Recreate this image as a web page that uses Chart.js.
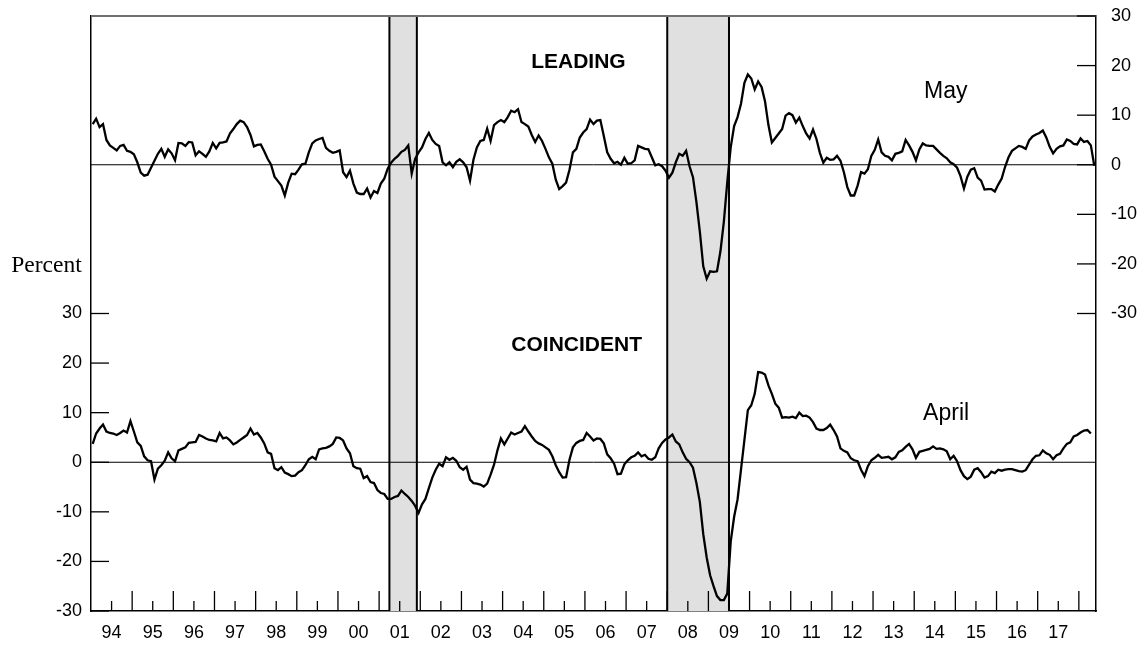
<!DOCTYPE html>
<html>
<head>
<meta charset="utf-8">
<script src="https://cdn.jsdelivr.net/npm/chart.js@4.4.1/dist/chart.umd.min.js"></script>
<style>
  html, body { margin: 0; padding: 0; background: #fff; }
  canvas { display: block; }
</style>
</head>
<body>
<canvas id="chart" width="1145" height="647"></canvas>
<script>
// Six-month growth rates (percent), monthly from Jan 1994
const startYear = 1994;
const yearLabels = ['94', '95', '96', '97', '98', '99', '00', '01', '02', '03', '04', '05',
  '06', '07', '08', '09', '10', '11', '12', '13', '14', '15', '16', '17'];

// Leading index, Jan 1994 - May 2018
const leading = [
  8.2, 9.3, 7.6, 8.2, 5.0, 3.9, 3.4, 2.9, 3.8, 4.0, 2.8, 2.6,
  2.1, 0.5, -1.6, -2.2, -2.0, -0.6, 0.8, 2.2, 3.2, 1.6, 3.1, 2.3,
  0.9, 4.4, 4.3, 3.8, 4.6, 4.5, 1.9, 2.7, 2.2, 1.6, 2.7, 4.4,
  3.3, 4.4, 4.5, 4.7, 6.3, 7.2, 8.2, 8.9, 8.6, 7.6, 6.0, 3.7,
  4.0, 4.1, 2.7, 1.2, 0.0, -2.4, -3.3, -4.2, -6.2, -3.6, -1.8, -1.9,
  -1.0, 0.1, 0.2, 2.5, 4.3, 4.9, 5.2, 5.4, 3.4, 2.8, 2.4, 2.6,
  2.9, -1.5, -2.5, -1.2, -3.8, -5.6, -5.9, -5.9, -4.8, -6.6, -5.3, -5.7,
  -3.8, -2.8, -0.8, 0.4, 1.2, 1.8, 2.6, 3.0, 3.9, -1.8, 1.2, 2.5,
  3.5, 5.2, 6.4, 5.0, 4.2, 3.8, 0.5, -0.1, 0.5, -0.5, 0.6, 1.1,
  0.5, -0.5, -3.2, 1.0, 3.5, 4.8, 5.0, 7.3, 4.8, 8.0, 8.6, 9.0,
  8.6, 9.6, 10.9, 10.6, 11.2, 8.6, 8.2, 7.7, 6.0, 4.6, 5.9, 4.8,
  3.2, 1.5, 0.2, -3.0, -4.9, -4.3, -3.6, -1.0, 2.5, 3.2, 5.5, 6.5,
  7.2, 9.1, 8.2, 8.9, 9.0, 5.8, 2.5, 1.2, 0.3, 0.6, 0.0, 1.4,
  0.2, 0.3, 0.9, 3.8, 3.5, 3.2, 3.1, 1.5, -0.1, 0.1, -0.3, -1.2,
  -2.6, -1.6, 0.5, 2.2, 1.8, 2.8, -0.3, -2.5, -7.5, -13.5, -20.5, -23.0,
  -21.5, -21.6, -21.5, -17.5, -11.5, -3.5, 3.5, 7.8, 9.6, 12.3, 16.5, 18.2,
  17.4, 15.2, 16.8, 15.7, 12.8, 8.0, 4.5, 5.4, 6.3, 7.2, 9.9, 10.4,
  10.0, 8.5, 9.5, 7.8, 6.3, 5.3, 7.1, 5.2, 2.4, 0.4, 1.4, 1.0,
  1.1, 1.8, 0.8, -1.5, -4.5, -6.2, -6.2, -4.2, -1.5, -1.8, -0.9, 1.8,
  3.0, 5.1, 2.5, 1.8, 1.6, 0.9, 2.2, 2.4, 2.7, 5.0, 3.9, 2.6,
  0.9, 3.1, 4.3, 3.9, 3.8, 3.8, 3.1, 2.4, 1.8, 1.3, 0.5, 0.1,
  -0.6, -2.3, -4.8, -2.4, -1.0, -0.7, -2.6, -3.2, -5.0, -4.9, -4.9, -5.4,
  -4.0, -2.8, -0.4, 1.5, 2.8, 3.3, 3.8, 3.6, 3.2, 4.9, 5.7, 6.1,
  6.4, 6.9, 5.5, 3.6, 2.3, 3.2, 3.7, 3.9, 5.1, 4.8, 4.2, 4.1,
  5.3, 4.6, 4.8, 3.9, -0.2
];

// Coincident index, Jan 1994 - Apr 2018
const coincident = [
  3.7, 5.8, 6.8, 7.6, 6.2, 5.9, 5.8, 5.5, 5.9, 6.4, 6.0, 8.3,
  6.2, 4.0, 3.3, 1.2, 0.4, 0.2, -3.5, -1.3, -0.6, 0.3, 2.0, 0.8,
  0.2, 2.4, 2.7, 3.0, 3.9, 4.0, 4.1, 5.5, 5.2, 4.8, 4.5, 4.4,
  4.2, 5.9, 4.8, 5.0, 4.4, 3.6, 4.0, 4.5, 5.0, 5.5, 6.8, 5.6,
  5.9, 5.0, 3.8, 2.0, 1.7, -1.2, -1.6, -1.0, -2.1, -2.4, -2.8, -2.7,
  -2.0, -1.6, -0.6, 0.6, 1.1, 0.6, 2.6, 2.8, 2.9, 3.2, 3.7, 5.0,
  4.9, 4.4, 2.8, 1.8, -0.8, -1.2, -1.3, -3.2, -2.8, -4.0, -4.2, -5.6,
  -6.2, -6.4, -7.4, -7.4, -7.0, -6.8, -5.7, -6.4, -7.0, -7.8, -8.8, -10.2,
  -8.5, -7.4, -5.2, -3.1, -1.5, -0.3, -0.8, 1.0, 0.5, 0.9, 0.3, -1.0,
  -1.5, -0.9, -3.5, -4.2, -4.3, -4.5, -4.9, -4.3, -2.5, -0.5, 2.4, 4.8,
  3.6, 4.8, 6.0, 5.6, 5.9, 6.2, 7.3, 6.2, 5.2, 4.3, 3.8, 3.5,
  3.0, 2.5, 1.2, -0.6, -2.0, -3.1, -3.0, 0.5, 3.0, 3.9, 4.3, 4.5,
  5.9, 5.2, 4.4, 4.8, 4.7, 3.8, 1.6, 0.8, -0.3, -2.4, -2.3, -0.4,
  0.4, 1.0, 1.3, 2.0, 1.2, 1.5, 0.7, 0.5, 1.0, 2.8, 3.9, 4.6,
  5.0, 5.6, 4.2, 3.6, 2.0, 0.7, 0.0, -1.1, -4.2, -8.0, -14.5, -19.2,
  -22.8, -25.0, -27.0, -27.8, -27.8, -26.5, -16.0, -11.0, -7.5, -1.5, 4.5, 10.5,
  11.5, 13.8, 18.2, 18.1, 17.7, 15.5, 13.8, 11.8, 11.0, 9.0, 9.1, 9.0,
  9.2, 8.9, 10.0, 9.3, 9.4, 9.0, 8.1, 6.8, 6.5, 6.5, 6.9, 7.6,
  6.5, 5.2, 2.8, 2.3, 2.0, 0.8, 0.4, 0.2, -1.5, -2.8, -0.8, 0.4,
  0.9, 1.5, 0.9, 1.0, 1.1, 0.6, 1.0, 2.1, 2.4, 3.1, 3.7, 2.6,
  0.9, 2.1, 2.3, 2.5, 2.7, 3.2, 2.7, 2.8, 2.6, 2.2, 0.6, 1.3,
  0.2, -1.6, -2.8, -3.4, -2.9, -1.5, -1.2, -2.0, -3.1, -2.8, -1.9, -2.2,
  -1.5, -1.7, -1.5, -1.4, -1.4, -1.6, -1.8, -1.9, -1.6, -0.5, 0.6, 1.3,
  1.4, 2.4, 1.8, 1.5, 0.6, 1.4, 1.7, 2.8, 3.7, 4.0, 5.2, 5.5,
  6.0, 6.4, 6.5, 5.8
];

const recessionStarts = ['2001-03', '2007-12'];
const recessionEnds = ['2001-11', '2009-06'];
const axisTicks = [30, 20, 10, 0, -10, -20, -30];

function monthIndex(s) {
  const [y, m] = s.split('-').map(Number);
  return (y - startYear) * 12 + (m - 1);
}

const sansFont = '"Liberation Sans", Arial, sans-serif';

const decorations = {
  id: 'decorations',
  beforeDatasetsDraw(chart) {
    const { ctx, chartArea: a, scales: { x, yLead, yCoin } } = chart;
    ctx.save();
    // recession shading
    recessionStarts.forEach((s, i) => {
      const x0 = x.getPixelForValue(monthIndex(s) + 0.5);
      const x1 = x.getPixelForValue(monthIndex(recessionEnds[i]) + 0.5);
      ctx.fillStyle = '#e0e0e0';
      ctx.fillRect(x0, a.top, x1 - x0, a.bottom - a.top);
      ctx.strokeStyle = '#000';
      ctx.lineWidth = 2;
      [x0, x1].forEach(px => {
        ctx.beginPath();
        ctx.moveTo(px, a.top);
        ctx.lineTo(px, a.bottom);
        ctx.stroke();
      });
    });
    // zero lines
    ctx.strokeStyle = '#000';
    ctx.lineWidth = 1;
    [yLead.getPixelForValue(0), yCoin.getPixelForValue(0)].forEach(py => {
      ctx.beginPath();
      ctx.moveTo(a.left, py);
      ctx.lineTo(a.right, py);
      ctx.stroke();
    });
    ctx.restore();
  },
  afterDraw(chart) {
    const { ctx, chartArea: a, scales: { x, yLead, yCoin } } = chart;
    ctx.save();
    // top frame
    ctx.strokeStyle = '#707070';
    ctx.lineWidth = 2;
    ctx.beginPath();
    ctx.moveTo(a.left, a.top);
    ctx.lineTo(a.right, a.top);
    ctx.stroke();

    // inward tick marks
    ctx.strokeStyle = '#000';
    ctx.lineWidth = 1.3;
    for (let k = 0; k <= yearLabels.length; k++) {
      const big = x.getPixelForValue(12 * k - 0.5);
      const mid = x.getPixelForValue(12 * k + 5.5);
      if (k > 0 && big <= a.right) {
        ctx.beginPath(); ctx.moveTo(big, a.bottom); ctx.lineTo(big, a.bottom - 20); ctx.stroke();
      }
      if (mid <= a.right) {
        ctx.beginPath(); ctx.moveTo(mid, a.bottom); ctx.lineTo(mid, a.bottom - 10); ctx.stroke();
      }
    }
    axisTicks.forEach(v => {
      const pr = yLead.getPixelForValue(v);
      ctx.beginPath(); ctx.moveTo(a.right, pr); ctx.lineTo(a.right - 19, pr); ctx.stroke();
      const pl = yCoin.getPixelForValue(v);
      ctx.beginPath(); ctx.moveTo(a.left, pl); ctx.lineTo(a.left + 18, pl); ctx.stroke();
    });

    // labels
    ctx.fillStyle = '#000';
    ctx.textAlign = 'center';
    ctx.textBaseline = 'alphabetic';
    ctx.font = 'bold 21px ' + sansFont;
    ctx.fillText('LEADING', x.getPixelForValue(141.6), yLead.getPixelForValue(19.6));
    ctx.fillText('COINCIDENT', x.getPixelForValue(141.1), yCoin.getPixelForValue(22.5));
    ctx.font = '23px ' + sansFont;
    ctx.fillText('May', x.getPixelForValue(248.7), yLead.getPixelForValue(13.4));
    ctx.fillText('April', x.getPixelForValue(248.8), yCoin.getPixelForValue(8.6));
    ctx.font = '23.5px "Liberation Serif", "Times New Roman", serif';
    ctx.fillText('Percent', 46.5, 272);
    ctx.restore();
  }
};

const tickFont = { family: sansFont, size: 18 };

// y axes: fixed width, no extra label padding above/below the plot
const fitY = width => s => {
  s.width = width;
  s.paddingTop = 0;
  s.paddingBottom = 0;
};

new Chart(document.getElementById('chart'), {
  type: 'line',
  data: {
    datasets: [{
      label: 'Leading',
      data: leading.map((v, i) => ({ x: i, y: v })),
      yAxisID: 'yLead',
      borderColor: '#000',
      borderWidth: 2.3,
      pointRadius: 0,
      tension: 0
    }, {
      label: 'Coincident',
      data: coincident.map((v, i) => ({ x: i, y: v })),
      yAxisID: 'yCoin',
      borderColor: '#000',
      borderWidth: 2.3,
      pointRadius: 0,
      tension: 0
    }]
  },
  options: {
    responsive: false,
    animation: false,
    layout: { autoPadding: false, padding: { top: 16, left: 0, right: 0, bottom: 0 } },
    plugins: {
      legend: { display: false },
      tooltip: { enabled: false }
    },
    scales: {
      x: {
        type: 'linear',
        min: -0.5,
        max: 292.5,
        afterBuildTicks: s => { s.ticks = yearLabels.map((_, k) => ({ value: 12 * k + 5.5 })); },
        afterFit: s => { s.height = 36; s.paddingLeft = 0; s.paddingRight = 0; },
        grid: { display: false, drawTicks: false },
        border: { display: true, color: '#000', width: 1.5 },
        ticks: {
          color: '#000',
          font: tickFont,
          padding: 11,
          autoSkip: false,
          maxRotation: 0,
          callback: (v, i) => yearLabels[i]
        }
      },
      yLead: {
        position: 'right',
        min: -90,
        max: 30,
        afterBuildTicks: s => { s.ticks = axisTicks.map(v => ({ value: v })); },
        afterFit: fitY(49),
        grid: { display: false, drawTicks: false },
        border: { display: true, color: '#000', width: 1.5 },
        ticks: { color: '#000', font: tickFont, padding: 15, callback: v => String(v) }
      },
      yCoin: {
        position: 'left',
        min: -30,
        max: 90,
        afterBuildTicks: s => { s.ticks = axisTicks.map(v => ({ value: v })); },
        afterFit: fitY(91),
        grid: { display: false, drawTicks: false },
        border: { display: true, color: '#000', width: 1.5 },
        ticks: { color: '#000', font: tickFont, padding: 9, callback: v => String(v) }
      }
    }
  },
  plugins: [decorations]
});
</script>
</body>
</html>
